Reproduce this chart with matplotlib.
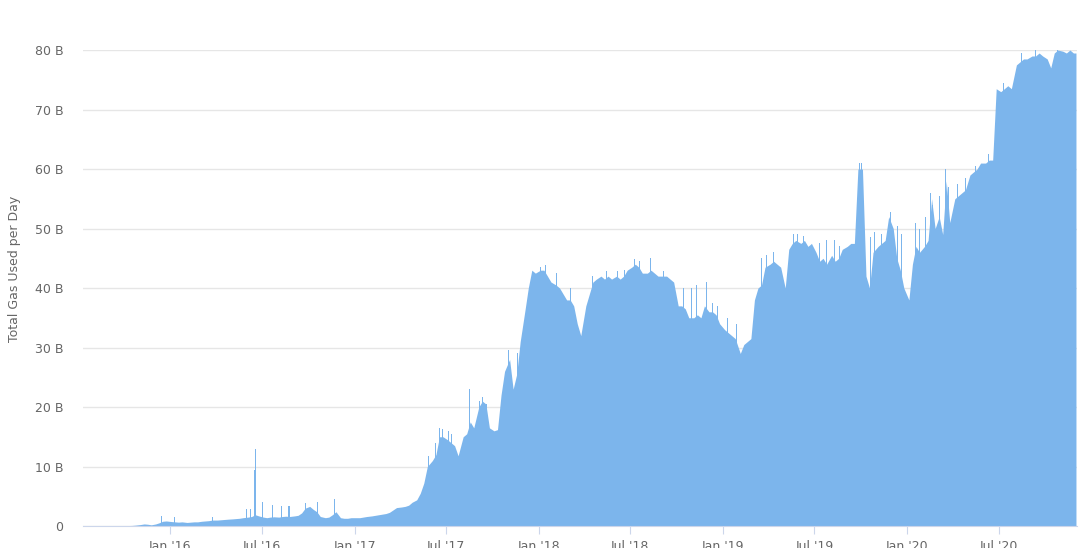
import pandas as pd
import matplotlib
matplotlib.use("Agg")
import matplotlib.pyplot as plt
import matplotlib.dates as mdates
from matplotlib.ticker import FuncFormatter


# weekly values (billions of gas), 4 per month: weeks starting 1st, 8th, 15th, 22nd
first_month = "2015-08-01"
weekly_gas = [
    [0.02, 0.03, 0.03, 0.04],   # 2015-08
    [0.05, 0.04, 0.05, 0.06],
    [0.06, 0.08, 0.10, 0.15],
    [0.25, 0.35, 0.30, 0.20],
    [0.35, 0.55, 0.80, 0.85],
    [0.75, 0.70, 0.65, 0.70],   # 2016-01
    [0.60, 0.65, 0.70, 0.70],
    [0.80, 0.85, 0.90, 1.00],
    [1.00, 1.05, 1.10, 1.15],
    [1.20, 1.25, 1.30, 1.40],
    [1.50, 1.60, 1.90, 1.70],
    [1.50, 1.40, 1.50, 1.55],
    [1.50, 1.60, 1.65, 1.60],
    [1.70, 1.80, 2.20, 3.00],
    [3.30, 2.80, 2.40, 1.60],
    [1.40, 1.50, 1.90, 2.40],
    [1.40, 1.30, 1.30, 1.40],
    [1.40, 1.40, 1.50, 1.60],   # 2017-01
    [1.70, 1.80, 1.90, 2.00],
    [2.10, 2.30, 2.70, 3.10],
    [3.20, 3.30, 3.50, 4.00],
    [4.40, 5.50, 7.20, 10.0],
    [11.0, 12.0, 15.0, 15.0],
    [14.5, 14.0, 13.5, 11.8],
    [15.0, 15.5, 17.5, 16.5],
    [20.0, 21.0, 20.5, 16.5],
    [16.0, 16.2, 22.0, 26.0],
    [28.0, 23.0, 25.5, 31.0],
    [36.0, 40.0, 43.0, 42.5],
    [43.0, 43.0, 42.0, 41.0],   # 2018-01
    [40.5, 40.0, 39.0, 38.0],
    [38.0, 37.0, 34.0, 32.0],
    [37.0, 39.0, 41.0, 41.5],
    [42.0, 41.5, 42.0, 41.5],
    [42.0, 41.5, 42.0, 43.0],
    [43.5, 44.0, 43.5, 42.5],
    [42.5, 43.0, 42.5, 42.0],
    [42.0, 42.0, 41.5, 41.0],
    [37.0, 37.0, 36.5, 35.0],
    [35.0, 35.5, 35.0, 37.0],
    [36.0, 36.0, 35.5, 34.0],
    [33.0, 32.5, 32.0, 31.5],   # 2019-01
    [29.0, 30.5, 31.0, 31.5],
    [38.0, 40.0, 40.5, 43.5],
    [44.0, 44.5, 44.0, 43.5],
    [40.0, 46.5, 47.5, 48.0],
    [47.5, 48.0, 47.0, 47.5],
    [46.0, 44.5, 45.0, 44.0],
    [45.5, 44.5, 45.0, 46.5],
    [47.0, 47.5, 47.5, 60.0],
    [60.0, 42.0, 40.0, 46.0],
    [47.0, 47.5, 48.0, 52.0],
    [50.0, 45.0, 43.0, 40.0],
    [38.0, 44.0, 47.0, 46.0],   # 2020-01
    [47.0, 48.0, 55.0, 50.0],
    [52.0, 49.0, 58.0, 51.0],
    [55.0, 55.5, 56.0, 56.5],
    [59.0, 59.5, 60.0, 61.0],
    [61.0, 61.5, 61.5, 73.5],
    [73.0, 73.5, 74.0, 73.5],
    [77.5, 78.0, 78.5, 78.5],
    [79.0, 79.0, 79.5, 79.0],
    [78.5, 77.0, 79.5, 80.0],
    [79.8, 79.5, 80.0, 79.5],   # 2020-11
]
data_start = "2015-07-30"
data_end = "2020-11-30"

# single-day spikes
spike_dates = [
    "2015-12-16", "2016-01-10", "2016-03-26", "2016-06-01", "2016-06-09",
    "2016-06-17", "2016-06-18", "2016-07-02", "2016-07-22", "2016-08-10",
    "2016-08-24", "2016-09-26", "2016-10-20", "2016-11-22", "2017-05-28",
    "2017-06-10", "2017-06-18", "2017-06-25", "2017-07-05", "2017-07-12",
    "2017-08-17", "2017-09-05", "2017-09-12", "2017-09-20", "2017-11-01",
    "2017-11-20", "2018-01-05", "2018-01-15", "2018-02-05", "2018-03-05",
    "2018-04-17", "2018-05-15", "2018-06-05", "2018-06-20", "2018-07-10",
    "2018-07-20", "2018-08-10", "2018-09-05", "2018-10-15", "2018-10-30",
    "2018-11-10", "2018-11-30", "2018-12-10", "2018-12-20", "2019-01-10",
    "2019-01-28", "2019-03-18", "2019-03-28", "2019-04-10", "2019-05-20",
    "2019-05-28", "2019-06-10", "2019-07-10", "2019-07-25", "2019-08-10",
    "2019-08-20", "2019-09-28", "2019-10-03", "2019-10-20", "2019-10-28",
    "2019-11-10", "2019-11-28", "2019-12-12", "2019-12-20", "2020-01-18",
    "2020-01-25", "2020-02-05", "2020-02-15", "2020-02-20", "2020-03-05",
    "2020-03-16", "2020-03-22", "2020-04-10", "2020-04-25", "2020-05-15",
    "2020-06-10", "2020-07-10", "2020-08-15", "2020-09-10", "2020-10-25",
]
spike_values = [
    1.7, 1.5, 1.6, 2.8, 2.8,
    9.5, 12.9, 4.0, 3.6, 3.4,
    3.4, 3.9, 4.0, 4.6, 11.8,
    14.0, 16.5, 16.3, 16.0, 15.5,
    23.0, 21.0, 21.7, 20.5, 29.6,
    29.0, 43.5, 43.8, 42.5, 40.0,
    42.0, 42.8, 42.8, 43.0, 44.9,
    44.5, 45.0, 42.8, 40.0, 40.0,
    40.5, 41.0, 37.5, 37.0, 35.0,
    34.0, 45.0, 45.5, 46.0, 49.0,
    49.0, 48.8, 47.5, 48.0, 48.0,
    47.0, 61.0, 61.0, 48.5, 49.5,
    49.0, 52.8, 50.5, 49.0, 51.0,
    50.0, 52.0, 56.0, 54.0, 55.5,
    60.0, 57.0, 57.5, 58.5, 60.5,
    62.5, 74.5, 79.5, 80.0, 80.3,
]

y_ticks = [0, 10, 20, 30, 40, 50, 60, 70, 80]
x_ticks = ["2016-01-01", "2016-07-01", "2017-01-01", "2017-07-01", "2018-01-01",
           "2018-07-01", "2019-01-01", "2019-07-01", "2020-01-01", "2020-07-01"]

fill_color = "#7cb5ec"
text_color = "#666666"

# weekly points placed mid-week
dates = [pd.Timestamp(data_start)]
values = [weekly_gas[0][0]]
months = pd.date_range(first_month, periods=len(weekly_gas), freq="MS")
for m, weeks in zip(months, weekly_gas):
    for i, v in enumerate(weeks):
        dates.append(m + pd.Timedelta(days=7 * i + 3))
        values.append(v)
dates.append(pd.Timestamp(data_end))
values.append(weekly_gas[-1][-1])

fig = plt.figure(figsize=(10.8, 5.48), dpi=100)
ax = fig.add_axes([0.0769, 0.0401, 0.9203, 0.8686])

ax.fill_between(dates, values, color=fill_color, linewidth=0)
ax.bar(pd.to_datetime(spike_dates), spike_values, width=2, color=fill_color, linewidth=0)

ax.set_ylim(0, 80)
ax.set_xlim(pd.Timestamp("2015-07-13"), pd.Timestamp("2020-12-02"))

ax.set_yticks(y_ticks)
ax.yaxis.set_major_formatter(FuncFormatter(lambda v, p: "0" if v == 0 else f"{int(v)} B"))
ax.set_xticks(pd.to_datetime(x_ticks))
ax.xaxis.set_major_formatter(mdates.DateFormatter("%b '%y"))

ax.grid(axis="y", color="#e6e6e6", linewidth=1)
ax.set_axisbelow(True)
for s in ["top", "right", "left"]:
    ax.spines[s].set_visible(False)
ax.spines["bottom"].set_color("#ccd6eb")

ax.tick_params(axis="y", length=0, pad=14, labelsize=9, labelcolor=text_color)
ax.tick_params(axis="x", length=6, color="#ccd6eb", pad=4, labelsize=9, labelcolor=text_color)

ax.set_ylabel("Total Gas Used per Day", fontsize=9, color=text_color)
ax.yaxis.set_label_coords(-0.062, 0.54)

fig.savefig("out.png", dpi=100)
